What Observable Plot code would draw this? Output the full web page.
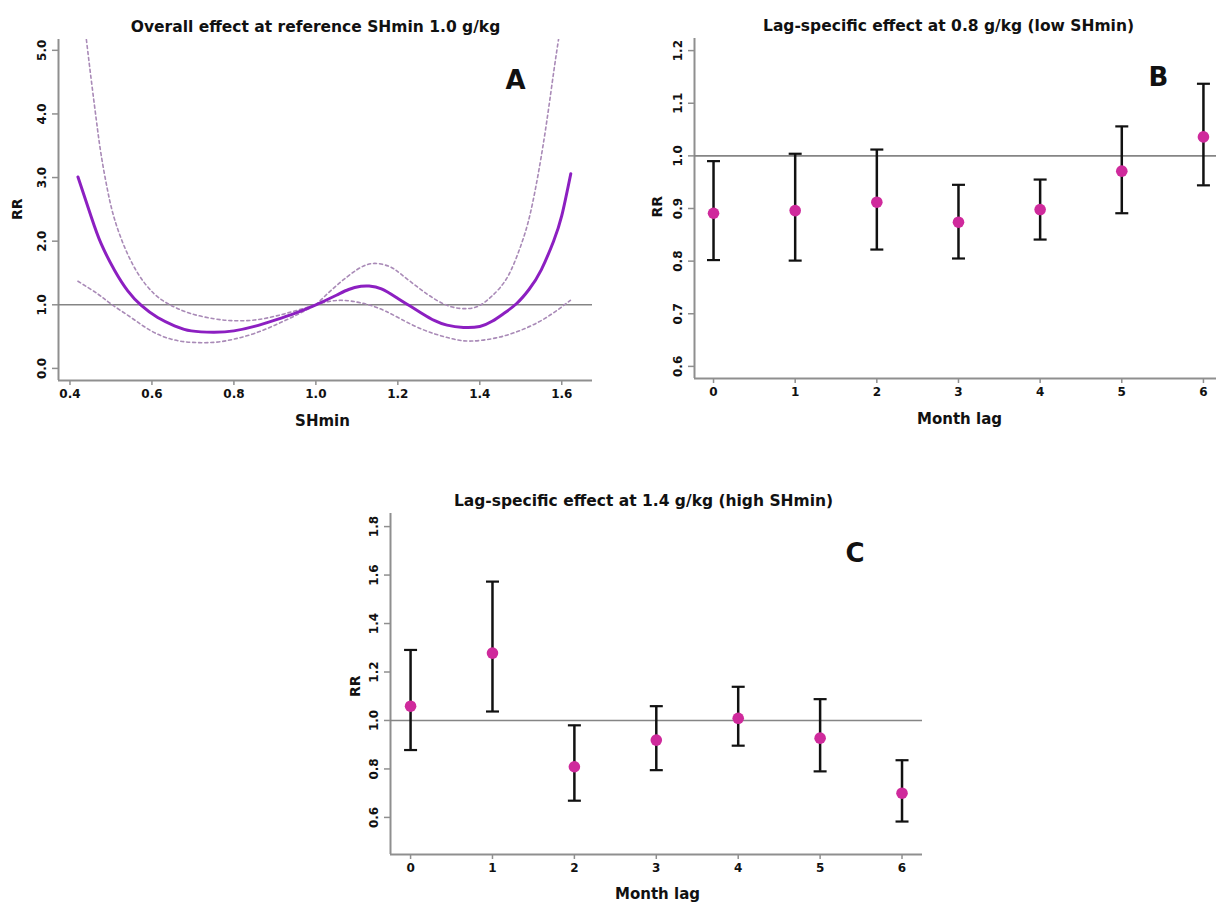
<!DOCTYPE html>
<html>
<head>
<meta charset="utf-8">
<script src="https://cdn.jsdelivr.net/npm/d3@7"></script>
<script src="https://cdn.jsdelivr.net/npm/@observablehq/plot@0.6"></script>
<style>
  body { margin: 0; background: #fff; }
  #wrap { position: relative; width: 1216px; height: 907px; overflow: hidden; background: #fff; }
  .panel { position: absolute; }
</style>
</head>
<body>
<div id="wrap">
  <div id="pa" class="panel" style="left:0px;top:0px"></div>
  <div id="pb" class="panel" style="left:600px;top:0px"></div>
  <div id="pc" class="panel" style="left:330px;top:470px"></div>
</div>
<script>
// ---------- Panel A data: overall cumulative effect (reference 1.0 g/kg) ----------
const shX      = [0.4195, 0.452, 0.476, 0.509, 0.541, 0.574, 0.614, 0.655, 0.696, 0.752, 0.80, 0.85, 0.90, 0.95, 1.00, 1.05, 1.08, 1.11, 1.13, 1.16, 1.20, 1.23, 1.26, 1.29, 1.32, 1.36, 1.40, 1.43, 1.46, 1.49, 1.52, 1.55, 1.58, 1.60, 1.622];
const rrFit    = [3.01, 2.38, 1.96, 1.54, 1.22, 0.99, 0.80, 0.67, 0.59, 0.57, 0.59, 0.66, 0.76, 0.87, 1.00, 1.15, 1.24, 1.29, 1.295, 1.25, 1.10, 0.98, 0.86, 0.75, 0.68, 0.645, 0.66, 0.74, 0.87, 1.02, 1.24, 1.55, 2.00, 2.40, 3.06];
// lower 95% CI (left and right of the reference value)
const shXLowL  = [0.4195, 0.468, 0.501, 0.549, 0.598, 0.647, 0.696, 0.752, 0.80, 0.85, 0.90, 0.95, 1.00];
const rrLowL   = [1.37, 1.17, 1.01, 0.80, 0.59, 0.46, 0.41, 0.41, 0.46, 0.55, 0.68, 0.83, 1.00];
const shXLowR  = [1.00, 1.03, 1.065, 1.11, 1.17, 1.25, 1.33, 1.38, 1.44, 1.50, 1.56, 1.621];
const rrLowR   = [1.00, 1.05, 1.07, 1.03, 0.90, 0.64, 0.47, 0.43, 0.48, 0.60, 0.79, 1.07];
// upper 95% CI
const shXHighL = [0.44, 0.452, 0.464, 0.476, 0.493, 0.509, 0.533, 0.566, 0.606, 0.647, 0.696, 0.752, 0.80, 0.85, 0.90, 0.95, 1.00];
const rrHighL  = [5.17, 4.53, 3.92, 3.36, 2.76, 2.34, 1.91, 1.49, 1.17, 0.99, 0.86, 0.78, 0.75, 0.76, 0.82, 0.905, 1.00];
const shXHighR = [1.00, 1.05, 1.10, 1.14, 1.18, 1.21, 1.25, 1.29, 1.33, 1.37, 1.40, 1.43, 1.467, 1.499, 1.523, 1.547, 1.566, 1.581, 1.594];
const rrHighR  = [1.00, 1.30, 1.55, 1.65, 1.60, 1.47, 1.27, 1.09, 0.97, 0.94, 0.99, 1.14, 1.43, 1.91, 2.43, 3.22, 4.00, 4.69, 5.25];
const xTicksA  = [0.4, 0.6, 0.8, 1.0, 1.2, 1.4, 1.6];
const yTicksA  = [0, 1, 2, 3, 4, 5];

// ---------- Panel B data: lag-specific effect at 0.8 g/kg ----------
const lags     = [0, 1, 2, 3, 4, 5, 6];
const rrB      = [0.891, 0.896, 0.912, 0.874, 0.898, 0.971, 1.036];
const lowB     = [0.802, 0.801, 0.822, 0.805, 0.841, 0.891, 0.944];
const highB    = [0.990, 1.004, 1.012, 0.945, 0.955, 1.056, 1.137];
const yTicksB  = [0.6, 0.7, 0.8, 0.9, 1.0, 1.1, 1.2];

// ---------- Panel C data: lag-specific effect at 1.4 g/kg ----------
const rrC      = [1.059, 1.278, 0.809, 0.919, 1.009, 0.927, 0.700];
const lowC     = [0.878, 1.037, 0.669, 0.795, 0.896, 0.790, 0.583];
const highC    = [1.291, 1.573, 0.980, 1.059, 1.139, 1.088, 0.836];
const yTicksC  = [0.6, 0.8, 1.0, 1.2, 1.4, 1.6, 1.8];

// ---------- shared styling ----------
const FONT = "'DejaVu Sans', Verdana, sans-serif";
const AXIS_GREY = "#8f8f8f";
const REF_GREY = "#858585";
const DOT_COLOR = "#cf2a9c";
const FIT_COLOR = "#8c1fc1";
const CI_COLOR = "#a98ab7";
const f1 = d3.format(".1f");

// horizontal cap symbol for error bars
const capSymbol = {
  draw(context, size) {
    const r = Math.sqrt(size / Math.PI);
    context.moveTo(-r, 0);
    context.lineTo(r, 0);
  }
};

function axes(xDomain, yDomain, xTicks, yTicks, xFmt) {
  return [
    Plot.axisX({ticks: xTicks, tickFormat: xFmt, tickSize: 5, tickPadding: 4, fontSize: 12, fontWeight: 700,
                stroke: AXIS_GREY, strokeWidth: 1.5, fill: "#111", label: null}),
    Plot.axisY({ticks: yTicks, tickFormat: f1, tickRotate: -90, tickSize: 6, tickPadding: 7, fontSize: 12, fontWeight: 700,
                stroke: AXIS_GREY, strokeWidth: 1.5, fill: "#111", label: null}),
    Plot.ruleX([xDomain[0]], {stroke: AXIS_GREY, strokeWidth: 2}),
    Plot.ruleY([yDomain[0]], {stroke: AXIS_GREY, strokeWidth: 2})
  ];
}

function texts(o) {
  return [
    Plot.text([o.title], {frameAnchor: "top", dx: o.tdx, dy: o.tdy, fontSize: 15.5, fontWeight: 700, fill: "#111"}),
    Plot.text([o.xlab], {frameAnchor: "bottom", dx: o.xdx, dy: o.xdy, fontSize: 15, fontWeight: 700, fill: "#111"}),
    Plot.text(["RR"], {frameAnchor: "left", dx: o.ydx, dy: o.ydy, rotate: -90, fontSize: 14, fontWeight: 700, fill: "#111"}),
    Plot.text([o.letter], {frameAnchor: "top-left", dx: o.ldx, dy: o.ldy, fontSize: 26, fontWeight: 700, fill: "#111"})
  ];
}

const ciStyle = {curve: "natural", stroke: CI_COLOR, strokeWidth: 1.6, strokeDasharray: "3,3", clip: true};

// ---------- Panel A ----------
const xDomA = [0.372, 1.675], yDomA = [-0.19, 5.17];
const plotA = Plot.plot({
  width: 600, height: 440,
  marginLeft: 58, marginRight: 8, marginTop: 39, marginBottom: 60,
  style: {fontFamily: FONT, background: "#fff", overflow: "visible", color: "#111"},
  x: {domain: xDomA, label: null},
  y: {domain: yDomA, label: null},
  marks: [
    ...axes(xDomA, yDomA, xTicksA, yTicksA, f1),
    Plot.ruleY([1], {stroke: REF_GREY, strokeWidth: 1.6}),
    Plot.line(rrLowL, {x: shXLowL, y: rrLowL, ...ciStyle}),
    Plot.line(rrLowR, {x: shXLowR, y: rrLowR, ...ciStyle}),
    Plot.line(rrHighL, {x: shXHighL, y: rrHighL, ...ciStyle}),
    Plot.line(rrHighR, {x: shXHighR, y: rrHighR, ...ciStyle}),
    Plot.line(rrFit, {x: shX, y: rrFit, curve: "natural", stroke: FIT_COLOR, strokeWidth: 3, clip: true}),
    ...texts({title: "Overall effect at reference SHmin 1.0 g/kg", tdx: -10, tdy: -19,
              xlab: "SHmin", xdx: -3, xdy: 45, ydx: -41, ydy: 10,
              letter: "A", ldx: 447, ldy: 31})
  ]
});
document.getElementById("pa").appendChild(plotA);

// ---------- lag panels ----------
function lagPanel(o) {
  return Plot.plot({
    width: o.width, height: o.height,
    marginLeft: o.ml, marginRight: o.mr, marginTop: o.mt, marginBottom: o.mb,
    style: {fontFamily: FONT, background: "#fff", overflow: "visible", color: "#111"},
    x: {domain: o.xDom, label: null},
    y: {domain: o.yDom, label: null},
    marks: [
      ...axes(o.xDom, o.yDom, lags, o.yTicks, d => String(d)),
      Plot.ruleY([1], {stroke: REF_GREY, strokeWidth: 1.6}),
      Plot.ruleX(lags, {x: lags, y1: o.low, y2: o.high, stroke: "#111", strokeWidth: 2.5}),
      Plot.dot(lags, {x: lags, y: o.low, symbol: capSymbol, r: 6.5, stroke: "#111", strokeWidth: 2.2, fill: "none"}),
      Plot.dot(lags, {x: lags, y: o.high, symbol: capSymbol, r: 6.5, stroke: "#111", strokeWidth: 2.2, fill: "none"}),
      Plot.dot(lags, {x: lags, y: o.rr, r: 5.8, fill: DOT_COLOR, stroke: "none"}),
      ...texts(o.t)
    ]
  });
}

const plotB = lagPanel({
  width: 616, height: 440, ml: 94, mr: 0, mt: 38, mb: 62,
  xDom: [-0.233, 6.16], yDom: [0.577, 1.223], yTicks: yTicksB,
  rr: rrB, low: lowB, high: highB,
  t: {title: "Lag-specific effect at 0.8 g/kg (low SHmin)", tdx: -7, tdy: -19,
      xlab: "Month lag", xdx: 4, xdy: 45, ydx: -37, ydy: 9,
      letter: "B", ldx: 454, ldy: 29}
});
document.getElementById("pb").appendChild(plotB);

const plotC = lagPanel({
  width: 600, height: 437, ml: 60, mr: 8, mt: 43, mb: 53,
  xDom: [-0.245, 6.25], yDom: [0.447, 1.854], yTicks: yTicksC,
  rr: rrC, low: lowC, high: highC,
  t: {title: "Lag-specific effect at 1.4 g/kg (high SHmin)", tdx: -13, tdy: -19,
      xlab: "Month lag", xdx: 1, xdy: 44, ydx: -35, ydy: 13,
      letter: "C", ldx: 455, ldy: 30}
});
document.getElementById("pc").appendChild(plotC);
</script>
</body>
</html>
